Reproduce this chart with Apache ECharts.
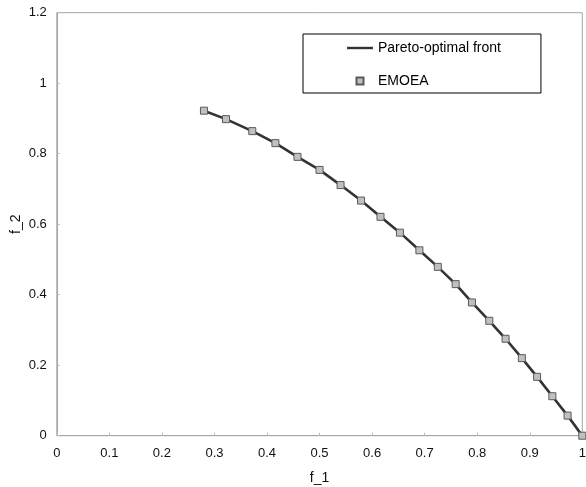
<!DOCTYPE html>
<html>
<head>
<meta charset="utf-8">
<script src="https://cdn.jsdelivr.net/npm/echarts@6/dist/echarts.min.js"></script>
<style>
  html, body { margin: 0; padding: 0; background: #fff; }
  #chart { width: 586px; height: 487px; }
</style>
</head>
<body>
<div id="chart"></div>
<script>
// Pareto-optimal front (f_1, f_2)
var frontF1 = [0.280, 0.322, 0.372, 0.416, 0.458, 0.500, 0.540, 0.579, 0.616, 0.653, 0.690,
               0.725, 0.759, 0.790, 0.823, 0.854, 0.885, 0.914, 0.943, 0.972, 1.000];
var frontF2 = [0.922, 0.898, 0.864, 0.830, 0.791, 0.754, 0.711, 0.667, 0.621, 0.576, 0.526,
               0.479, 0.430, 0.378, 0.326, 0.275, 0.220, 0.167, 0.112, 0.057, 0.000];

// Solutions found by EMOEA
var emoeaF1 = [0.280, 0.322, 0.372, 0.416, 0.458, 0.500, 0.540, 0.579, 0.616, 0.653, 0.690,
               0.725, 0.759, 0.790, 0.823, 0.854, 0.885, 0.914, 0.943, 0.972, 1.000];
var emoeaF2 = [0.922, 0.898, 0.864, 0.830, 0.791, 0.754, 0.711, 0.667, 0.621, 0.576, 0.526,
               0.479, 0.430, 0.378, 0.326, 0.275, 0.220, 0.167, 0.112, 0.057, 0.000];

var seriesNames = ['Pareto-optimal front', 'EMOEA'];
var axisNames = ['f_1', 'f_2'];

function pairs(xs, ys) {
  return xs.map(function (x, i) { return [x, ys[i]]; });
}

var font = 'Arial, "Liberation Sans", sans-serif';
var chart = echarts.init(document.getElementById('chart'), null, { renderer: 'canvas' });

chart.setOption({
  animation: false,
  backgroundColor: '#ffffff',
  grid: {
    left: 56.8, right: 3.7, top: 12.7, bottom: 51.3,
    outerBoundsMode: 'none',
    containLabel: false,
    show: true, borderColor: '#a6a6a6', borderWidth: 1, backgroundColor: 'transparent'
  },
  legend: {
    orient: 'vertical',
    left: 303, top: 34,
    padding: [7, 40, 5, 44],
    itemGap: 19,
    itemWidth: 26, itemHeight: 7,
    borderColor: '#000', borderWidth: 1,
    backgroundColor: '#fff',
    textStyle: { fontFamily: font, fontSize: 14, color: '#000' },
    data: [
      { name: seriesNames[0], icon: 'path://M0,0H26V2.4H0Z' },
      { name: seriesNames[1], icon: 'path://M0,0H7V7H0Z' }
    ]
  },
  xAxis: {
    type: 'value', min: 0, max: 1, interval: 0.1,
    name: axisNames[0], nameLocation: 'middle', nameGap: 35, nameMoveOverlap: false,
    nameTextStyle: { fontFamily: font, fontSize: 14, color: '#111' },
    axisLine: { show: true, lineStyle: { color: '#a6a6a6', width: 1 } },
    axisTick: { show: true, inside: true, length: 3, lineStyle: { color: '#bbb' } },
    axisLabel: { fontFamily: font, fontSize: 13, color: '#111', margin: 11 },
    splitLine: { show: false }
  },
  yAxis: {
    type: 'value', min: 0, max: 1.2, interval: 0.2,
    name: axisNames[1], nameLocation: 'middle', nameGap: 34, nameRotate: 90, nameMoveOverlap: false,
    nameTextStyle: { fontFamily: font, fontSize: 14, color: '#111' },
    axisLine: { show: true, lineStyle: { color: '#a6a6a6', width: 1 } },
    axisTick: { show: true, inside: true, length: 3, lineStyle: { color: '#bbb' } },
    axisLabel: { fontFamily: font, fontSize: 13, color: '#111', margin: 10 },
    splitLine: { show: false }
  },
  series: [
    {
      name: seriesNames[0],
      type: 'line',
      data: pairs(frontF1, frontF2),
      symbol: 'none',
      color: '#333333',
      lineStyle: { color: '#333333', width: 2.6 },
      z: 2
    },
    {
      name: seriesNames[1],
      type: 'scatter',
      data: pairs(emoeaF1, emoeaF2),
      symbol: 'rect',
      symbolSize: 7,
      color: '#c0c0c0',
      itemStyle: { color: '#c0c0c0', borderColor: '#5a5a5a', borderWidth: 1, opacity: 1 },
      z: 3
    }
  ]
});
</script>
</body>
</html>
